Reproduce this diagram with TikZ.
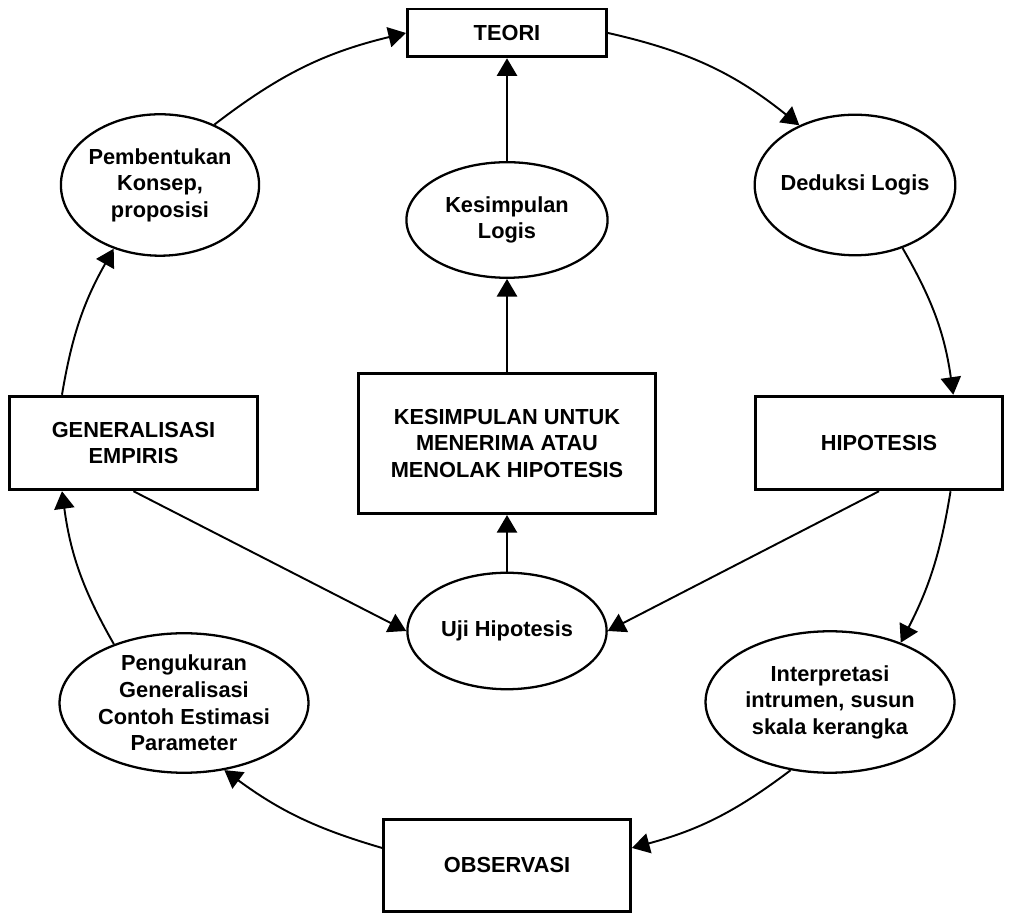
\documentclass[tikz,border=0pt]{standalone}
\usepackage{fontspec}
\setmainfont{Liberation Sans}
\usetikzlibrary{arrows.meta,shapes}
\tikzstyle{label font}=[font=\bfseries\fontsize{12.4}{15.1}\selectfont]
\tikzstyle{block}=[rectangle,draw,line width=1.6pt,align=center,inner sep=0pt,label font]
\tikzstyle{bubble}=[ellipse,draw,line width=1.3pt,align=center,inner ysep=0pt,inner xsep=-2pt,label font]
\tikzstyle{edge}=[draw,line width=1.1pt,-{Triangle[length=10pt,width=11.5pt]}]

\begin{document}
\begin{tikzpicture}[x=0.02cm, y=0.02cm]
    \useasboundingbox (0,0) rectangle (1013,922);

    % Boxes
    \node[block, minimum width=113.4pt, minimum height=27.2pt] (teori) at (507,889) {TEORI};
    \node[block, minimum width=141.2pt, minimum height=53.3pt] (gen) at (133.5,479) {GENERALISASI\\EMPIRIS};
    \node[block, minimum width=168.9pt, minimum height=79.9pt] (kesim) at (507,478.5) {KESIMPULAN UNTUK\\MENERIMA ATAU\\MENOLAK HIPOTESIS};
    \node[block, minimum width=140.6pt, minimum height=53.3pt] (hipo) at (879,479) {HIPOTESIS};
    \node[block, minimum width=140.6pt, minimum height=52.7pt] (obs) at (507,56.5) {OBSERVASI};

    % Ellipses
    \node[bubble, minimum width=114.5pt, minimum height=65.8pt] (logis) at (507,702) {Kesimpulan\\Logis};
    \node[bubble, minimum width=112.8pt, minimum height=80.5pt] (pemb) at (160,737) {Pembentukan\\Konsep,\\proposisi};
    \node[bubble, minimum width=113.4pt, minimum height=80pt] (deduksi) at (855,737) {Deduksi Logis};
    \node[bubble, minimum width=113.4pt, minimum height=66.3pt] (uji) at (507,291) {Uji Hipotesis};
    \node[bubble, minimum width=141.7pt, minimum height=79.4pt] (ukur) at (184,219) {Pengukuran\\Generalisasi\\Contoh Estimasi\\Parameter};
    \node[bubble, minimum width=141.7pt, minimum height=80.5pt] (interp) at (830,220) {Interpretasi\\intrumen, susun\\skala kerangka};

    % Outer cycle
    \foreach \source/\dest/\bend in {pemb.48/teori.west/12, teori.east/deduksi.133/13,
                                     deduksi.307/hipo.33/11, hipo.326/interp.40/9,
                                     interp.240/obs.8/11, obs.172/ukur.301/10,
                                     ukur.140/gen.214/11, gen.146/pemb.234/10}
        \path[edge] (\source) to[bend left=\bend] (\dest);

    % Straight links
    \foreach \source/\dest in {logis/teori, kesim/logis, uji/kesim}
        \path[edge] (\source) -- (\dest);
    \path[edge] (gen.south) -- (uji.west);
    \path[edge] (hipo.south) -- (uji.east);

\end{tikzpicture}
\end{document}
